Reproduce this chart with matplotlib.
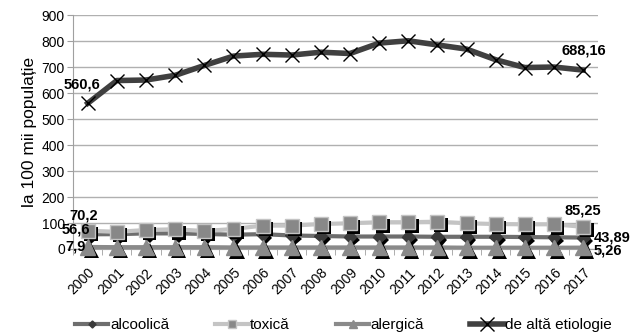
import matplotlib
matplotlib.use("Agg")
import matplotlib.pyplot as plt
import matplotlib.patheffects as pe
import numpy as np

plt.rcParams["font.family"] = ["Liberation Sans", "DejaVu Sans"]

years = [str(y) for y in range(2000, 2018)]
alcoolica = [56.6, 57, 60, 60, 58, 55, 57, 52, 50, 48, 48, 48, 47, 47, 47, 46, 45, 43.89]
toxica = [70.2, 66, 73, 76, 69, 77, 90, 90, 96, 99, 103, 103, 105, 99, 96, 95, 95, 85.25]
alergica = [7.9, 7, 7, 7, 7, 6, 6, 6, 6, 6, 6, 6, 6, 5, 5, 5, 5, 5.26]
alta = [560.6, 648, 650, 668, 706, 742, 749, 746, 757, 752, 792, 801, 785, 769, 728, 698, 700, 688.16]

fig = plt.figure(figsize=(6.42, 3.34), dpi=100)
ax = fig.add_axes([0.114, 0.2545, 0.817, 0.7005])

x = np.arange(len(years))
shadow = [pe.SimplePatchShadow(offset=(2.5, -2.5), shadow_rgbFace="black", alpha=1.0), pe.Normal()]

series = [
    ("alcoolică", alcoolica, "#6e6e6e", "D", "#3a3a3a", "#3a3a3a", 6.5, 3),
    ("toxică", toxica, "#c4c4c4", "s", "#888888", "#c4c4c4", 10, 3),
    ("alergică", alergica, "#8a8a8a", "^", "#8a8a8a", "#8a8a8a", 11, 3),
]
for name, vals, lc, mk, mfc, mec, ms, lw in series:
    ax.plot(x, vals, color=lc, lw=lw, zorder=3)
    ax.plot(x, vals, ls="none", marker=mk, ms=ms, mfc=mfc, mec=mec, mew=1,
            path_effects=shadow, zorder=4, clip_on=False)
    ax.plot([], [], color=lc, lw=lw, marker=mk, ms=ms * 0.55, mfc=mfc, mec=mec, label=name)

ax.plot(x, alta, color="#404040", lw=4, marker="x", ms=10, mec="black", mew=1.0,
        zorder=5, label="de altă etiologie")

def fmt(v):
    return f"{v:g}".replace(".", ",")

labels = [
    (0, alta[0], (-6, 19)), (17, alta[-1], (1, 20)),
    (0, toxica[0], (-4, 15)), (17, toxica[-1], (0, 16)),
    (0, alcoolica[0], (-12, 5)), (17, alcoolica[-1], (29, 0)),
    (0, alergica[0], (-12, 0)), (17, alergica[-1], (25, -3)),
]
for i, v, off in labels:
    ax.annotate(fmt(v), (x[i], v), xytext=off, textcoords="offset pixels",
                ha="center", va="center", fontsize=10.5, fontweight="bold", zorder=6)

ax.set_xlim(-0.5, len(years) - 0.5)
ax.set_ylim(0, 900)
ax.set_yticks(range(0, 901, 100))
ax.set_xticks(x)
ax.set_xticklabels(years, rotation=45, ha="right", rotation_mode="anchor", fontsize=10)
ax.set_xticks(np.arange(-0.5, len(years), 1), minor=True)
ax.tick_params(axis="x", which="major", length=0, pad=12)
ax.tick_params(axis="x", which="minor", length=4, color="#a0a0a0")
ax.tick_params(axis="y", length=4, color="#a0a0a0", labelsize=10, pad=2)
ax.yaxis.grid(True, color="#b0b0b0", lw=1)
ax.set_axisbelow(True)
for s in ["top", "right"]:
    ax.spines[s].set_visible(False)
ax.spines["left"].set_color("#a0a0a0")
ax.spines["bottom"].set_color("#a0a0a0")
ax.set_ylabel("la 100 mii populație", fontsize=12.5, labelpad=3)

fig.legend(loc="lower center", bbox_to_anchor=(0.535, -0.035), ncol=4, frameon=False,
           fontsize=11, handlelength=2.2, handletextpad=0.1, columnspacing=3.0)

fig.savefig("out.png", dpi=100)
